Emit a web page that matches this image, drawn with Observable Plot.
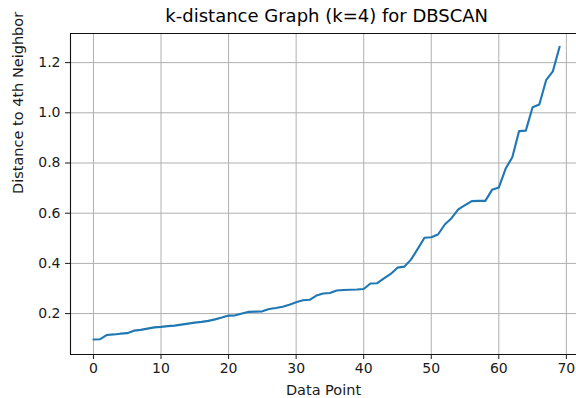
<!DOCTYPE html>
<html>
<head>
<meta charset="utf-8">
<script src="https://cdn.jsdelivr.net/npm/d3@7"></script>
<script src="https://cdn.jsdelivr.net/npm/@observablehq/plot@0.6"></script>
<style>
  html, body { margin: 0; padding: 0; background: #fff; }
  svg { display: block; }
</style>
</head>
<body>
<div id="chart"></div>
<script>
const title = "k-distance Graph (k=4) for DBSCAN";
const xLabel = "Data Point";
const yLabel = "Distance to 4th Neighbor";
const xTicks = [0, 10, 20, 30, 40, 50, 60, 70];
const yTicks = [0.2, 0.4, 0.6, 0.8, 1.0, 1.2];
const distances = [
  0.097, 0.098, 0.115, 0.117, 0.120, 0.122, 0.132, 0.135, 0.140, 0.145,
  0.147, 0.150, 0.152, 0.156, 0.160, 0.164, 0.167, 0.171, 0.177, 0.184,
  0.192, 0.193, 0.200, 0.207, 0.208, 0.209, 0.218, 0.222, 0.227, 0.235,
  0.245, 0.253, 0.255, 0.272, 0.280, 0.282, 0.292, 0.294, 0.295, 0.296,
  0.298, 0.320, 0.321, 0.340, 0.358, 0.383, 0.387, 0.415, 0.458, 0.502,
  0.504, 0.515, 0.555, 0.580, 0.615, 0.632, 0.648, 0.649, 0.649, 0.693,
  0.702, 0.777, 0.823, 0.927, 0.929, 1.022, 1.033, 1.130, 1.165, 1.263
];
const xDomain = [-3.4, 71.5];
const yDomain = [0.037, 1.316];

const data = distances.map((d, i) => ({i, d}));
const font = "DejaVu Sans, sans-serif";
const gridColor = "#b0b0b0";

const chart = Plot.plot({
  width: 576,
  height: 398,
  marginLeft: 70,
  marginRight: 0,
  marginTop: 33,
  marginBottom: 44,
  style: {fontFamily: font, fontSize: "14px", color: "#1a1a1a", background: "#fff"},
  x: {domain: xDomain},
  y: {domain: yDomain},
  marks: [
    Plot.gridX(xTicks, {stroke: gridColor, strokeOpacity: 1, strokeWidth: 1}),
    Plot.gridY(yTicks, {stroke: gridColor, strokeOpacity: 1, strokeWidth: 1}),
    Plot.ruleX([xDomain[0]], {stroke: "#111", strokeWidth: 1.1}),
    Plot.ruleY([yDomain[0]], {stroke: "#111", strokeWidth: 1.1}),
    Plot.ruleY([yDomain[1]], {stroke: "#111", strokeWidth: 1.1}),
    Plot.line(data, {x: "i", y: "d", stroke: "#1f77b4", strokeWidth: 2.1, curve: "linear"}),
    Plot.axisX(xTicks, {tickSize: 5, tickPadding: 4, fontSize: 14, label: null}),
    Plot.axisY(yTicks, {tickSize: 5, tickPadding: 5, fontSize: 14, tickFormat: d3.format(".1f"), label: null}),
    Plot.text([xLabel], {frameAnchor: "bottom", dy: 36, lineAnchor: "middle", fontSize: 14.5, fill: "#1a1a1a"}),
    Plot.text([yLabel], {frameAnchor: "left", dx: -52, rotate: -90, lineAnchor: "middle", fontSize: 14.5, fill: "#1a1a1a"}),
    Plot.text([title], {x: (xDomain[0] + 72.45) / 2, frameAnchor: "top", dy: -17, lineAnchor: "middle", fontSize: 18, fill: "#000"})
  ]
});
document.getElementById("chart").appendChild(chart);
</script>
</body>
</html>
